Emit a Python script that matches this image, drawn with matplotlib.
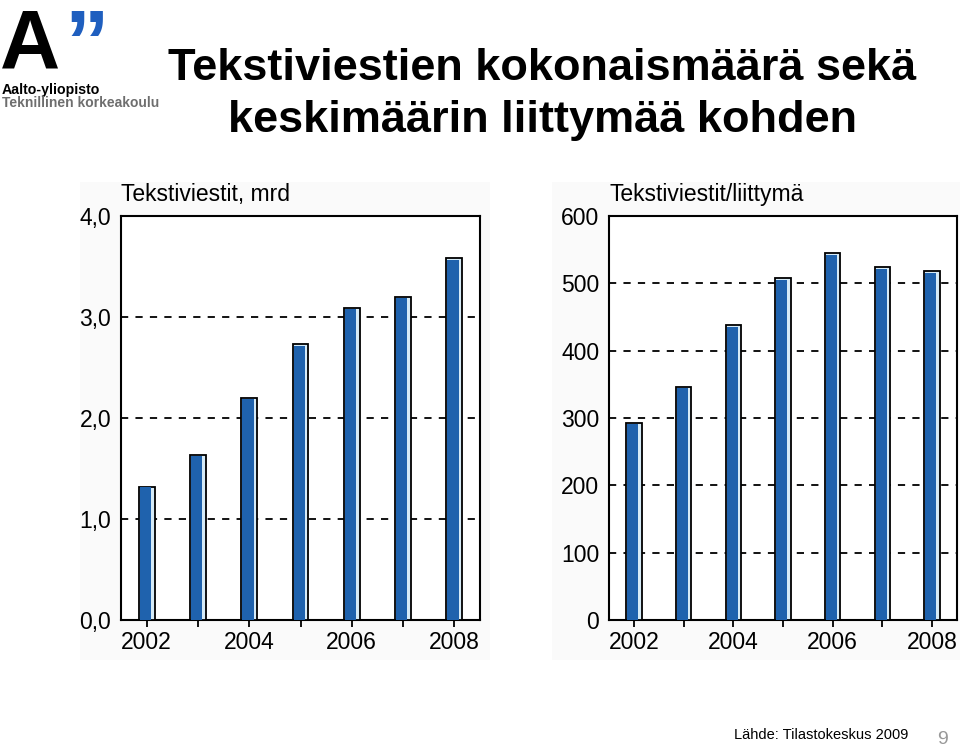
import matplotlib
matplotlib.use("Agg")
import matplotlib.pyplot as plt
from matplotlib.patches import Rectangle

years = [2002, 2003, 2004, 2005, 2006, 2007, 2008]
messages_bn = [1.32, 1.63, 2.20, 2.73, 3.09, 3.20, 3.58]
messages_per_sub = [293, 346, 438, 508, 545, 524, 518]
left_yticks = [0, 1, 2, 3, 4]
left_yticklabels = ["0,0", "1,0", "2,0", "3,0", "4,0"]
right_yticks = [0, 100, 200, 300, 400, 500, 600]
right_yticklabels = ["0", "100", "200", "300", "400", "500", "600"]
xticklabels = ["2002", "", "2004", "", "2006", "", "2008"]
title_lines = ["Tekstiviestien kokonaismäärä sekä", "keskimäärin liittymää kohden"]
left_title = "Tekstiviestit, mrd"
right_title = "Tekstiviestit/liittymä"
source = "Lähde: Tilastokeskus 2009"

plt.rcParams['font.family'] = ['Liberation Sans', 'DejaVu Sans']
plt.rcParams['mathtext.fontset'] = 'custom'
plt.rcParams['mathtext.rm'] = 'Liberation Sans:bold'
plt.rcParams['mathtext.bf'] = 'Liberation Sans:bold'
plt.rcParams['mathtext.it'] = 'Liberation Sans:bold'

fig = plt.figure(figsize=(9.6, 7.49), dpi=100)

# light panel backgrounds
fig.patches.append(Rectangle((80/960, 1-660/749), 410/960, 478/749, transform=fig.transFigure,
                             facecolor="#fafafa", edgecolor="none", zorder=-10))
fig.patches.append(Rectangle((552/960, 1-660/749), 408/960, 478/749, transform=fig.transFigure,
                             facecolor="#fafafa", edgecolor="none", zorder=-10))

dark = "#1f62ad"
light = "#d6ebf7"

def panel(rect, values, yticks, ylabels, ymax, title):
    ax = fig.add_axes(rect)
    ax.set_facecolor("white")
    w = 0.31
    ax.bar(years, values, width=w, color=light, edgecolor="black", linewidth=1.3, zorder=3)
    ax.bar([y - 0.025 for y in years], [v * 0.995 for v in values], width=w - 0.09,
           color=dark, edgecolor="none", zorder=4)
    ax.set_xlim(2001.5, 2008.5)
    ax.set_ylim(0, ymax)
    ax.set_yticks(yticks)
    ax.set_yticklabels(ylabels, fontsize=16.5)
    ax.set_xticks(years)
    ax.set_xticklabels(xticklabels, fontsize=16.5)
    ax.tick_params(axis='y', length=0, pad=7)
    ax.tick_params(axis='x', length=5, width=1.3, direction='out', pad=3)
    for yt in yticks[1:-1]:
        ax.axhline(yt, color="black", linestyle=(0, (4, 4)), linewidth=1.3, zorder=1)
    for s in ax.spines.values():
        s.set_linewidth(1.5)
    ax.text(0, 1.025, title, transform=ax.transAxes, ha='left', va='bottom', fontsize=16.5)
    return ax

panel([121/960, 1-620/749, (480-121)/960, 404/749], messages_bn, left_yticks, left_yticklabels, 4.0, left_title)
panel([609/960, 1-620/749, (957-609)/960, 404/749], messages_per_sub, right_yticks, right_yticklabels, 600, right_title)

# title
fig.text(542/960, 1-80/749, title_lines[0], ha='center', va='baseline', fontsize=32.5, fontweight='bold')
fig.text(542/960, 1-132/749, title_lines[1], ha='center', va='baseline', fontsize=32.5, fontweight='bold')

# logo
fig.text(0/960, 1-68/749, "A", ha='left', va='baseline', fontsize=60, fontweight='bold', color='black')
fig.text(64/960, 1-5/749, "$\u201d$", ha='left', va='top', fontsize=64, color='#1f5fbf')
fig.text(2/960, 1-94/749, "Aalto-yliopisto", ha='left', va='baseline', fontsize=10.2, fontweight='bold', color='black')
fig.text(2/960, 1-107/749, "Teknillinen korkeakoulu", ha='left', va='baseline', fontsize=10.0, fontweight='bold', color='#6e6e6e')

# footer
fig.text(908/960, 1-735/749, source, ha='right', va='center', fontsize=10.5, color='black')
fig.text(943/960, 1-740/749, "9", ha='center', va='center', fontsize=14, color='#999999')

fig.savefig("out.png", dpi=100)
